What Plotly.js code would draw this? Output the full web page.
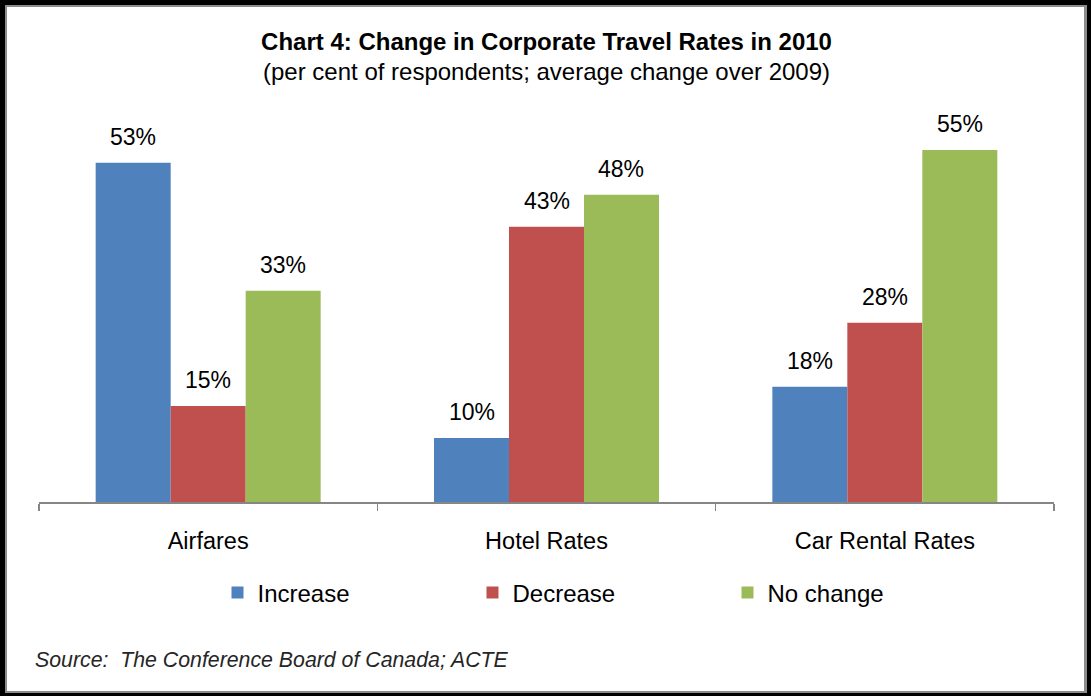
<!DOCTYPE html>
<html>
<head>
<meta charset="utf-8">
<script src="https://cdn.plot.ly/plotly-3.0.1.min.js"></script>
<style>
  html, body { margin: 0; padding: 0; background: #fff; }
  #wrap { position: relative; width: 1091px; height: 696px; overflow: hidden; }
  #chart { position: absolute; left: 0; top: 0; width: 1091px; height: 696px; }
  #frameOuter { position: absolute; left: 0; top: 0; width: 1091px; height: 696px; box-sizing: border-box;
    border-style: solid; border-color: #000; border-width: 5px 4px 3px 5px; pointer-events: none; }
  #frameInner { position: absolute; left: 5px; top: 5px; width: 1082px; height: 688px; box-sizing: border-box;
    border: 2px solid #8c8c8c; border-right-width: 3px; pointer-events: none; }
</style>
</head>
<body>
<div id="wrap">
  <div id="chart"></div>
  <div id="frameOuter"></div>
  <div id="frameInner"></div>
</div>
<script>
const categories = ['Airfares', 'Hotel Rates', 'Car Rental Rates'];
const seriesNames = ['Increase', 'Decrease', 'No change'];
const increase = [53, 10, 18];
const decrease = [15, 43, 28];
const noChange = [33, 48, 55];
const seriesValues = [increase, decrease, noChange];
const seriesColors = ['#4F81BD', '#C0504D', '#9BBB59'];

const W = 1091, H = 696;
const margin = { l: 39, r: 37, t: 118, b: 194 };
const bargap = 0.335;
const plotW = W - margin.l - margin.r;
const plotH = H - margin.t - margin.b;
const barPx = plotW / categories.length * (1 - bargap) / seriesNames.length;
const FONT = 'Liberation Sans, Arial, sans-serif';

const traces = seriesNames.map((name, i) => ({
  type: 'bar',
  name: name,
  x: categories,
  y: seriesValues[i],
  marker: { color: seriesColors[i], line: { width: 0 } },
  hoverinfo: 'x+y+name'
}));

const labelAnns = [];
seriesValues.forEach((vals, i) => {
  vals.forEach((v, j) => {
    labelAnns.push({
      xref: 'x', yref: 'y', x: categories[j], y: v,
      xshift: (i - (seriesNames.length - 1) / 2) * barPx,
      yshift: 11, yanchor: 'bottom', xanchor: 'center',
      text: v + '%', showarrow: false,
      font: { family: FONT, size: 23, color: '#000' }
    });
  });
});

const layout = {
  width: W, height: H,
  margin: margin,
  paper_bgcolor: '#fff', plot_bgcolor: '#fff',
  barmode: 'group', bargap: bargap, bargroupgap: 0,
  showlegend: true,
  title: {
    text: '<b>Chart 4: Change in Corporate Travel Rates in 2010</b>',
    font: { family: FONT, size: 24, color: '#000' },
    x: 0.5, xanchor: 'center', xref: 'paper',
    y: 1 - 42 / H, yanchor: 'middle', yref: 'container'
  },
  xaxis: {
    type: 'category',
    range: [-0.5, 2.5],
    showline: true, linecolor: '#868686', linewidth: 1.5,
    ticks: 'outside', tickson: 'boundaries', ticklen: 7, tickcolor: '#868686', tickwidth: 1.5,
    ticklabelstandoff: 17,
    tickfont: { family: FONT, size: 23.5, color: '#000' },
    showgrid: false, zeroline: false, fixedrange: true
  },
  yaxis: {
    range: [0, 60],
    visible: false, showgrid: false, zeroline: false, fixedrange: true
  },
  legend: {
    orientation: 'h',
    x: (600 - margin.l) / plotW, xanchor: 'center',
    y: (margin.t + plotH - 593) / plotH, yanchor: 'middle',
    font: { family: FONT, size: 24, color: '#000' },
    entrywidth: 210, entrywidthmode: 'pixels',
    bgcolor: 'rgba(0,0,0,0)', traceorder: 'normal'
  },
  annotations: [
    {
      xref: 'paper', yref: 'paper', x: 0.5, y: (margin.t + plotH - 72) / plotH,
      xanchor: 'center', yanchor: 'middle', showarrow: false,
      text: '(per cent of respondents; average change over 2009)',
      font: { family: FONT, size: 24, color: '#000' }
    },
    {
      xref: 'paper', yref: 'paper', x: (33 - margin.l) / plotW, y: (margin.t + plotH - 660) / plotH,
      xanchor: 'left', yanchor: 'middle', showarrow: false,
      text: '<i>Source:  The Conference Board of Canada; ACTE</i>',
      font: { family: FONT, size: 21.3, color: '#262626' }
    }
  ].concat(labelAnns)
};

Plotly.newPlot('chart', traces, layout, { displayModeBar: false, staticPlot: true });
</script>
</body>
</html>
